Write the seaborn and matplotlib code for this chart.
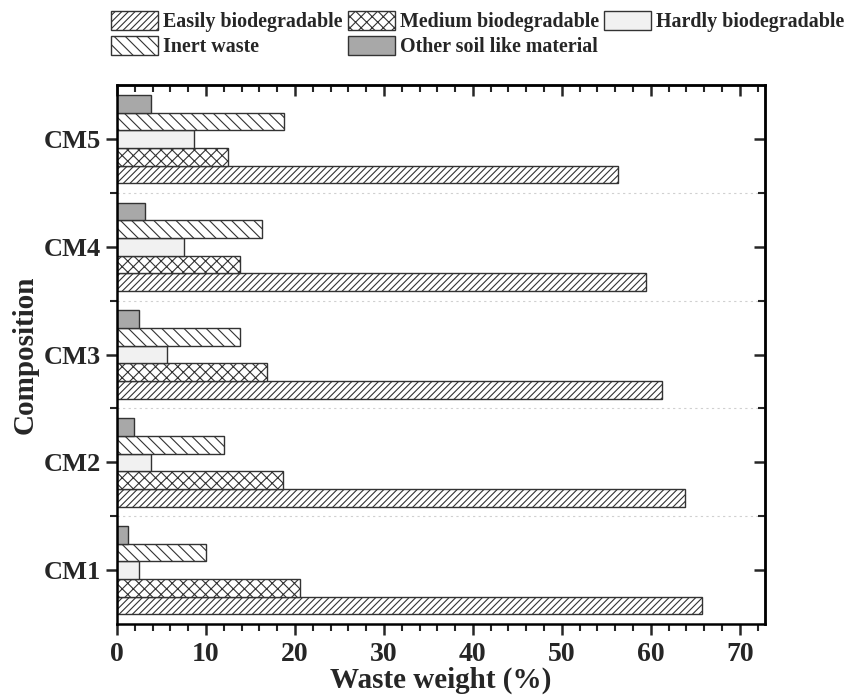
import numpy as np
import pandas as pd
import matplotlib
matplotlib.use("Agg")
import matplotlib.pyplot as plt
import seaborn as sns
from matplotlib.patches import Patch
from matplotlib.ticker import MultipleLocator, FixedLocator

# Waste composition data (%)
categories = ['CM1', 'CM2', 'CM3', 'CM4', 'CM5']
series = ['Easily biodegradable', 'Medium biodegradable', 'Hardly biodegradable',
          'Inert waste', 'Other soil like material']
easily = [65.7, 63.8, 61.3, 59.4, 56.3]
medium = [20.6, 18.7, 16.9, 13.8, 12.5]
hardly = [2.5, 3.8, 5.6, 7.5, 8.7]
inert = [10.0, 12.0, 13.8, 16.3, 18.8]
other = [1.2, 1.9, 2.5, 3.1, 3.8]

values = [easily, medium, hardly, inert, other]
rows = []
for name, vals in zip(series, values):
    for cat, v in zip(categories, vals):
        rows.append({'Composition': cat, 'Type': name, 'Weight': v})
df = pd.DataFrame(rows)

sns.set_style("ticks")
plt.rcParams['font.family'] = ['Liberation Serif', 'DejaVu Serif']
plt.rcParams['font.weight'] = 'bold'
plt.rcParams['hatch.linewidth'] = 0.8

fig = plt.figure(figsize=(8.45, 6.98), dpi=100)
ax = fig.add_axes([0.1385, 0.106, 0.7665, 0.772])

sns.barplot(data=df, x='Weight', y='Composition', hue='Type', orient='h',
            order=categories, hue_order=series, width=0.82, ax=ax,
            legend=False, errorbar=None)

styles = [('white', '/////'), ('white', 'xxx'), ('#f1f1f1', ''),
          ('white', '\\\\\\'), ('#a8a8a8', '')]
for cont, (fc, hatch) in zip(ax.containers, styles):
    for bar in cont:
        bar.set_facecolor(fc)
        bar.set_edgecolor('#333333')
        bar.set_linewidth(1.0)
        bar.set_hatch(hatch)

ax.set_ylim(-0.5, 4.5)
ax.set_xlim(0, 72.8)

# dotted separators between groups
for yb in [0.5, 1.5, 2.5, 3.5]:
    ax.axhline(yb, color='#d0d0d0', linestyle=(0, (2, 3)), linewidth=0.8, zorder=0)

ax.xaxis.set_major_locator(MultipleLocator(10))
ax.xaxis.set_minor_locator(MultipleLocator(2))
ax.yaxis.set_minor_locator(FixedLocator([0.5, 1.5, 2.5, 3.5]))

for s in ax.spines.values():
    s.set_visible(True)
    s.set_linewidth(1.8)
    s.set_color('black')

ax.tick_params(axis='x', which='major', direction='out', length=8, width=1.8,
               labelsize=20, pad=5)
ax.tick_params(axis='x', which='minor', direction='out', length=5, width=1.5)
ax.tick_params(axis='y', which='major', direction='out', length=8, width=1.8,
               labelsize=19)
ax.tick_params(axis='y', which='minor', direction='out', length=5, width=1.5)

# top and right axes with inward ticks
top = ax.secondary_xaxis('top')
top.xaxis.set_major_locator(MultipleLocator(10))
top.xaxis.set_minor_locator(MultipleLocator(2))
top.tick_params(which='major', direction='in', length=8, width=1.8, labeltop=False)
top.tick_params(which='minor', direction='in', length=5, width=1.5)
top.spines['top'].set_linewidth(1.8)
right = ax.secondary_yaxis('right')
right.yaxis.set_major_locator(FixedLocator([0, 1, 2, 3, 4]))
right.yaxis.set_minor_locator(FixedLocator([0.5, 1.5, 2.5, 3.5]))
right.tick_params(which='major', direction='in', length=8, width=1.8, labelright=False)
right.tick_params(which='minor', direction='in', length=5, width=1.5)
right.spines['right'].set_linewidth(1.8)

for lbl in ax.get_xticklabels() + ax.get_yticklabels():
    lbl.set_fontweight('bold')

ax.set_xlabel('Waste weight (%)', fontsize=21, fontweight='bold', labelpad=0)
ax.set_ylabel('Composition', fontsize=21, fontweight='bold', labelpad=4)

handles = [Patch(facecolor=fc, edgecolor='#333333', hatch=h, label=name)
           for (fc, h), name in zip(styles, series)]
# column-major fill: row 1 = Easily, Medium, Hardly; row 2 = Inert, Other
order = [0, 3, 1, 4, 2]
fig.legend(handles=[handles[i] for i in order], loc='upper left',
           bbox_to_anchor=(111 / 845, 1 - 11 / 698), ncol=3,
           frameon=False, prop={'size': 14.4, 'weight': 'bold'},
           handlelength=2.35, handleheight=1.05, columnspacing=0.25,
           handletextpad=0.25, labelspacing=0.2, borderaxespad=0, borderpad=0)

fig.savefig('out.png', dpi=100)
